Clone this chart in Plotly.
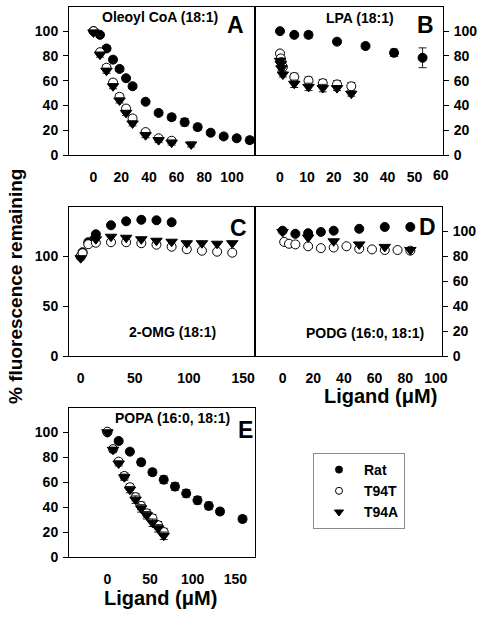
import plotly.graph_objects as go

W, H = 481, 617
FONT = "Liberation Sans, Arial, Helvetica, sans-serif"


def fx(p):
    return p / W


def fy(p):
    return 1 - p / H


# ---------------- Panel A: Oleoyl CoA (18:1) ----------------
A_rat_x = [0, 4.7, 9.4, 14.1, 18.8, 23.5, 28.2, 37.6, 47.0, 56.4, 65.8, 75.2, 84.6, 94.0, 103.4, 112.8]
A_rat_y = [100, 97, 86, 77, 69.5, 62, 55.5, 43, 34, 30.5, 26.5, 22.5, 18, 15, 13.5, 12]
A_rat_e = [1, 1.5, 2, 2, 2, 2, 2, 1.5, 2, 2.5, 3, 2.5, 2, 2, 2, 2.5]
A_t_x = [0, 4.7, 9.4, 14.1, 18.8, 23.5, 28.2, 37.6, 47.0, 56.4]
A_t_y = [100, 83, 70.5, 58.5, 47, 37.5, 29.5, 18.5, 13.5, 11.5]
A_t_e = [1, 2, 2.5, 2.5, 2.5, 2.5, 2.5, 2, 2, 2]
A_a_x = [0, 4.7, 9.4, 14.1, 18.8, 23.5, 28.2, 37.6, 47.0, 56.4, 70.5]
A_a_y = [99, 81, 68, 55.5, 44, 34, 25.5, 16, 12, 10, 8.5]
A_a_e = [1, 2, 2, 2, 2, 2, 2, 2, 2, 2, 2]

# ---------------- Panel B: LPA (18:1) ----------------
B_rat_x = [0, 5.3, 10.6, 21.2, 31.8, 42.4, 53.0]
B_rat_y = [100, 97, 97, 91.5, 88, 82.5, 78.5]
B_rat_e = [1.5, 1.5, 2.5, 2, 2, 3, 8]
B_t_x = [0, 0.27, 0.53, 1.06, 5.3, 10.6, 15.9, 21.2, 26.5]
B_t_y = [82, 78, 75, 71, 63, 60, 58, 57, 55.5]
B_t_e = [2, 2, 2, 2, 3, 3, 3, 3, 3]
B_a_x = [0, 0.27, 0.53, 1.06, 5.3, 10.6, 15.9, 21.2, 26.5]
B_a_y = [76, 73.5, 70, 65, 57.5, 55, 54, 54, 49.5]
B_a_e = [2, 2, 2, 2, 3, 3, 3, 2, 2]
B_edge_tick = 60

# ---------------- Panel C: 2-OMG (18:1) ----------------
C_rat_x = [0, 1.75, 7, 14, 28, 42, 56, 70, 84]
C_rat_y = [99.5, 104, 114, 122, 131, 135, 136.5, 136, 134]
C_t_x = [0, 1.75, 7, 14, 28, 42, 56, 70, 84, 98, 112, 126, 140]
C_t_y = [100, 103, 112, 113.5, 114, 114, 113, 111.5, 109.5, 107, 105.5, 104.5, 103.5]
C_a_x = [0, 14, 28, 42, 56, 70, 84, 98, 112, 126, 140]
C_a_y = [98, 117, 119.5, 118.5, 117, 115.5, 114.5, 113, 113, 112.5, 113]

# ---------------- Panel D: PODG (16:0, 18:1) ----------------
D_rat_x = [0, 8.33, 16.67, 25, 33.33, 50, 66.67, 83.33]
D_rat_y = [100.5, 98, 98.5, 99.5, 100.5, 102, 103.5, 103.5]
D_t_x = [1.04, 4.17, 8.33, 16.67, 25, 33.33, 41.67, 50, 58.33, 66.67, 75, 83.33]
D_t_y = [91.5, 90, 89.5, 88, 86.5, 87, 88, 86, 85.5, 85, 85, 84.5]
D_a_x = [0, 16.67, 33.33, 50, 66.67, 83.33]
D_a_y = [99.5, 95, 92, 89.5, 87.5, 85]

# ---------------- Panel E: POPA (16:0, 18:1) ----------------
E_rat_x = [0, 13.2, 26.4, 39.6, 52.8, 66, 79.2, 92.4, 105.6, 118.8, 132, 158.4]
E_rat_y = [100, 93, 84.5, 76, 68, 62, 56.5, 51, 45.5, 41, 36.5, 30.5]
E_rat_e = [1, 2, 2, 2.5, 2.5, 3, 3, 3, 3, 3, 2.5, 2.5]
E_t_x = [0, 6.6, 13.2, 19.8, 26.4, 33, 39.6, 46.2, 52.8, 59.4, 66]
E_t_y = [100.5, 86.5, 76.5, 65, 56, 48, 41, 35, 31, 25.5, 20]
E_t_e = [1, 2, 2, 2.5, 2.5, 3, 3, 3, 3, 3, 3]
E_a_x = [0, 6.6, 13.2, 19.8, 26.4, 33, 39.6, 46.2, 52.8, 59.4, 66]
E_a_y = [100, 86, 75, 64, 54, 46, 39, 33.5, 27.5, 23, 17]
E_a_e = [1, 2, 2, 2.5, 2.5, 3, 3, 3, 3, 3, 3]

series_names = ["Rat", "T94T", "T94A"]

panels = [
    dict(k="", xd=(69, 255), yd=(7, 155), xr=[-17.7, 116.6], xt=[0, 20, 40, 60, 80, 100],
         yr=[0, 119.5], yt=[0, 20, 40, 60, 80, 100], side="left",
         data=[(A_rat_x, A_rat_y, A_rat_e), (A_t_x, A_t_y, A_t_e), (A_a_x, A_a_y, A_a_e)]),
    dict(k="2", xd=(255, 443), yd=(7, 155), xr=[-9.3, 60.6], xt=[0, 10, 20, 30, 40, 50],
         yr=[0, 119.5], yt=[0, 20, 40, 60, 80, 100], side="right",
         data=[(B_rat_x, B_rat_y, B_rat_e), (B_t_x, B_t_y, B_t_e), (B_a_x, B_a_y, B_a_e)]),
    dict(k="3", xd=(69, 255), yd=(207, 356), xr=[-10.8, 161], xt=[0, 50, 100, 150],
         yr=[0, 149.3], yt=[0, 50, 100], side="left",
         data=[(C_rat_x, C_rat_y, None), (C_t_x, C_t_y, None), (C_a_x, C_a_y, None)]),
    dict(k="4", xd=(255, 442), yd=(207, 356), xr=[-18, 104], xt=[0, 20, 40, 60, 80, 100],
         yr=[0, 119.5], yt=[0, 20, 40, 60, 80, 100], side="right",
         data=[(D_rat_x, D_rat_y, None), (D_t_x, D_t_y, None), (D_a_x, D_a_y, None)]),
    dict(k="5", xd=(69, 255), yd=(408, 557), xr=[-45, 173], xt=[0, 50, 100, 150],
         yr=[0, 119.5], yt=[0, 20, 40, 60, 80, 100], side="left",
         data=[(E_rat_x, E_rat_y, E_rat_e), (E_t_x, E_t_y, E_t_e), (E_a_x, E_a_y, E_a_e)]),
]

styles = [
    dict(symbol="circle", size=9, color="black", line=dict(color="black", width=1)),
    dict(symbol="circle", size=9, color="white", line=dict(color="black", width=1)),
    dict(symbol="triangle-down", size=10, color="black", line=dict(color="black", width=1)),
]

fig = go.Figure()
tickfont = dict(family=FONT, size=14, color="black", weight="bold")

layout = {}
for p in panels:
    k = p["k"]
    for si, (xs, ys, es) in enumerate(p["data"]):
        err = None
        if es is not None:
            err = dict(type="data", array=es, visible=True, color="#222", thickness=1, width=4)
        fig.add_trace(go.Scatter(
            x=xs, y=ys, mode="markers", marker=styles[si], error_y=err,
            xaxis="x" + k, yaxis="y" + k, showlegend=False, hoverinfo="x+y",
        ))
    layout["xaxis" + k] = dict(
        domain=[fx(p["xd"][0]), fx(p["xd"][1])], range=p["xr"], tickvals=p["xt"],
        anchor="y" + k, showline=True, mirror=True, linecolor="black", linewidth=1,
        ticks="", showgrid=False, zeroline=False, tickfont=tickfont,
        ticklabelstandoff=9, automargin=False, ticklabeloverflow="allow",
    )
    layout["yaxis" + k] = dict(
        domain=[fy(p["yd"][1]), fy(p["yd"][0])], range=p["yr"], tickvals=p["yt"],
        anchor="x" + k, side=p["side"], showline=True, mirror=True, linecolor="black",
        linewidth=1, ticks="outside", ticklen=5, tickcolor="black", tickwidth=1,
        showgrid=False, zeroline=False, tickfont=tickfont, ticklabelstandoff=2,
        automargin=False, ticklabeloverflow="allow",
    )

# legend entries
for si, nm in enumerate(series_names):
    fig.add_trace(go.Scatter(x=[None], y=[None], mode="markers", name=nm,
                             marker=dict(symbol=styles[si]["symbol"], size=7 if si < 2 else 8,
                                         color=styles[si]["color"], line=dict(color="black", width=1)),
                             showlegend=True, xaxis="x5", yaxis="y5"))

ann = []


def txt(x, y, s, size, **kw):
    ann.append(dict(x=fx(x), y=fy(y), xref="paper", yref="paper", text=s, showarrow=False,
                    xanchor="center", yanchor="middle",
                    font=dict(family=FONT, size=size, color="black", weight="bold"), **kw))


txt(160, 17, "Oleoyl CoA (18:1)", 14)
txt(360, 18, "LPA (18:1)", 14)
txt(172, 332, "2-OMG (18:1)", 14)
txt(365, 333, "PODG (16:0, 18:1)", 14)
txt(172, 418, "POPA (16:0, 18:1)", 14)
txt(235, 25, "A", 23)
txt(425, 25, "B", 23)
txt(238, 228, "C", 23)
txt(427, 227, "D", 23)
txt(245, 430, "E", 23)
txt(16, 287, "% fluorescence remaining", 19, textangle=-90)
txt(380, 396, "Ligand (μM)", 20)
txt(160, 598, "Ligand (μM)", 20)

# edge tick label of panel B's x axis, placed through the x2 scale
ann.append(dict(x=B_edge_tick, xref="x2", y=fy(175), yref="paper",
                text="<b>%d</b>" % B_edge_tick,
                showarrow=False, xanchor="center", yanchor="middle",
                font=dict(family=FONT, size=14, color="black", weight="bold")))

fig.update_layout(
    width=W, height=H, autosize=False,
    margin=dict(l=0, r=0, t=0, b=0, pad=0),
    paper_bgcolor="white", plot_bgcolor="white",
    font=dict(family=FONT, color="black"),
    annotations=ann,
    legend=dict(x=fx(313), y=fy(453), xanchor="left", yanchor="top",
                bordercolor="#8c8c8c", borderwidth=1, bgcolor="white",
                font=dict(family=FONT, size=14, color="black", weight="bold"),
                itemsizing="trace", itemwidth=40, tracegroupgap=0),
    **layout,
)

fig.write_html("out.html", config={"displayModeBar": False},
               post_script="document.body.style.margin='0';")
